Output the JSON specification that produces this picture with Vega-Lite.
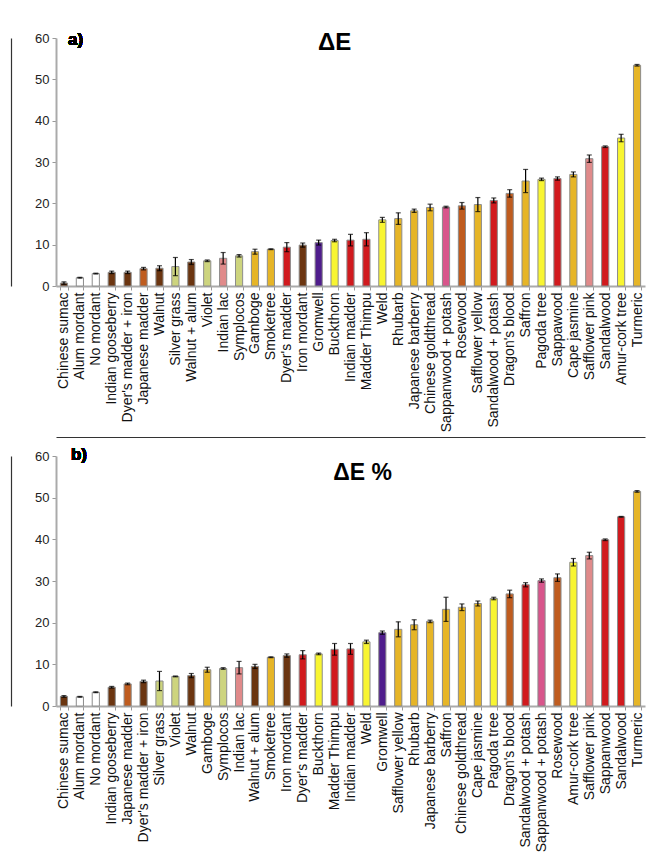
{
  "$schema": "https://vega.github.io/schema/vega-lite/v6.json",
  "padding": {"left": 11, "top": 31, "right": 5, "bottom": 5},
  "background": "white",
  "spacing": 5,
  "config": {
    "font": "Liberation Sans",
    "view": {"stroke": null},
    "axisX": {
      "title": null,
      "labelAngle": -90,
      "labelFontSize": 14,
      "labelColor": "#111111",
      "labelPadding": 2,
      "tickBand": "extent",
      "tickSize": 4,
      "tickColor": "#999999",
      "domainColor": "#aaaaaa",
      "domainWidth": 2
    },
    "axisY": {
      "title": null,
      "grid": false,
      "values": [0, 10, 20, 30, 40, 50, 60],
      "labelFontSize": 13,
      "labelColor": "#222222",
      "labelPadding": 3,
      "tickSize": 4,
      "tickColor": "#999999",
      "domainColor": "#aaaaaa",
      "domainWidth": 2
    },
    "title": {"fontSize": 24, "fontWeight": "bold", "color": "#000000", "anchor": "middle", "frame": "group"}
  },
  "datasets": {
    "deltaE": [
      {"dye": "Chinese sumac", "value": 0.7, "err": 0.3, "hue": "brown"},
      {"dye": "Alum mordant", "value": 2.0, "err": 0.1, "hue": "white"},
      {"dye": "No mordant", "value": 3.0, "err": 0.1, "hue": "white"},
      {"dye": "Indian gooseberry", "value": 3.3, "err": 0.3, "hue": "brown"},
      {"dye": "Dyer's madder + iron", "value": 3.3, "err": 0.3, "hue": "brown"},
      {"dye": "Japanese madder", "value": 4.2, "err": 0.3, "hue": "orange"},
      {"dye": "Walnut", "value": 4.3, "err": 0.6, "hue": "brown"},
      {"dye": "Silver grass", "value": 4.7, "err": 2.2, "hue": "khaki"},
      {"dye": "Walnut + alum", "value": 5.8, "err": 0.6, "hue": "brown"},
      {"dye": "Violet", "value": 6.1, "err": 0.2, "hue": "khaki"},
      {"dye": "Indian lac", "value": 6.7, "err": 1.4, "hue": "pink"},
      {"dye": "Symplocos", "value": 7.3, "err": 0.3, "hue": "khaki"},
      {"dye": "Gamboge", "value": 8.3, "err": 0.6, "hue": "gold"},
      {"dye": "Smoketree", "value": 8.9, "err": 0.1, "hue": "gold"},
      {"dye": "Dyer's madder", "value": 9.4, "err": 1.1, "hue": "red"},
      {"dye": "Iron mordant", "value": 9.9, "err": 0.5, "hue": "brown"},
      {"dye": "Gromwell", "value": 10.5, "err": 0.6, "hue": "purple"},
      {"dye": "Buckthorn", "value": 11.0, "err": 0.3, "hue": "yellow"},
      {"dye": "Indian madder", "value": 11.1, "err": 1.4, "hue": "red"},
      {"dye": "Madder Thimpu", "value": 11.3, "err": 1.6, "hue": "red"},
      {"dye": "Weld", "value": 16.0, "err": 0.6, "hue": "yellow"},
      {"dye": "Rhubarb", "value": 16.3, "err": 1.4, "hue": "gold"},
      {"dye": "Japanese barberry", "value": 18.2, "err": 0.4, "hue": "gold"},
      {"dye": "Chinese goldthread", "value": 19.0, "err": 0.8, "hue": "gold"},
      {"dye": "Sappanwood + potash", "value": 19.1, "err": 0.2, "hue": "magenta"},
      {"dye": "Rosewood", "value": 19.4, "err": 0.8, "hue": "orange"},
      {"dye": "Safflower yellow", "value": 19.7, "err": 1.7, "hue": "gold"},
      {"dye": "Sandalwood + potash", "value": 20.7, "err": 0.6, "hue": "red"},
      {"dye": "Dragon's blood", "value": 22.4, "err": 0.9, "hue": "orange"},
      {"dye": "Saffron", "value": 25.4, "err": 2.8, "hue": "gold"},
      {"dye": "Pagoda tree", "value": 25.8, "err": 0.3, "hue": "yellow"},
      {"dye": "Sappawood", "value": 26.0, "err": 0.4, "hue": "red"},
      {"dye": "Cape jasmine", "value": 27.0, "err": 0.6, "hue": "gold"},
      {"dye": "Safflower pink", "value": 30.8, "err": 0.9, "hue": "pink"},
      {"dye": "Sandalwood", "value": 33.7, "err": 0.2, "hue": "red"},
      {"dye": "Amur-cork tree", "value": 35.8, "err": 0.9, "hue": "yellow"},
      {"dye": "Turmeric", "value": 53.4, "err": 0.2, "hue": "gold"}
    ],
    "deltaEpct": [
      {"dye": "Chinese sumac", "value": 2.3, "err": 0.2, "hue": "brown"},
      {"dye": "Alum mordant", "value": 2.2, "err": 0.1, "hue": "white"},
      {"dye": "No mordant", "value": 3.3, "err": 0.1, "hue": "white"},
      {"dye": "Indian gooseberry", "value": 4.5, "err": 0.2, "hue": "brown"},
      {"dye": "Japanese madder", "value": 5.3, "err": 0.2, "hue": "orange"},
      {"dye": "Dyer's madder + iron", "value": 5.9, "err": 0.3, "hue": "brown"},
      {"dye": "Silver grass", "value": 6.0, "err": 2.3, "hue": "khaki"},
      {"dye": "Violet", "value": 7.1, "err": 0.1, "hue": "khaki"},
      {"dye": "Walnut", "value": 7.3, "err": 0.5, "hue": "brown"},
      {"dye": "Gamboge", "value": 8.7, "err": 0.6, "hue": "gold"},
      {"dye": "Symplocos", "value": 9.0, "err": 0.2, "hue": "khaki"},
      {"dye": "Indian lac", "value": 9.2, "err": 1.5, "hue": "pink"},
      {"dye": "Walnut + alum", "value": 9.5, "err": 0.5, "hue": "brown"},
      {"dye": "Smoketree", "value": 11.7, "err": 0.1, "hue": "gold"},
      {"dye": "Iron mordant", "value": 12.1, "err": 0.4, "hue": "brown"},
      {"dye": "Dyer's madder", "value": 12.3, "err": 1.0, "hue": "red"},
      {"dye": "Buckthorn", "value": 12.5, "err": 0.2, "hue": "yellow"},
      {"dye": "Madder Thimpu", "value": 13.6, "err": 1.4, "hue": "red"},
      {"dye": "Indian madder", "value": 13.7, "err": 1.3, "hue": "red"},
      {"dye": "Weld", "value": 15.4, "err": 0.4, "hue": "yellow"},
      {"dye": "Gromwell", "value": 17.6, "err": 0.4, "hue": "purple"},
      {"dye": "Safflower yellow", "value": 18.4, "err": 1.8, "hue": "gold"},
      {"dye": "Rhubarb", "value": 19.5, "err": 1.2, "hue": "gold"},
      {"dye": "Japanese barberry", "value": 20.3, "err": 0.3, "hue": "gold"},
      {"dye": "Saffron", "value": 23.2, "err": 2.9, "hue": "gold"},
      {"dye": "Chinese goldthread", "value": 23.7, "err": 0.8, "hue": "gold"},
      {"dye": "Cape jasmine", "value": 24.6, "err": 0.6, "hue": "gold"},
      {"dye": "Pagoda tree", "value": 25.8, "err": 0.3, "hue": "yellow"},
      {"dye": "Dragon's blood", "value": 26.9, "err": 0.9, "hue": "orange"},
      {"dye": "Sandalwood + potash", "value": 29.1, "err": 0.5, "hue": "red"},
      {"dye": "Sappanwood + potash", "value": 30.1, "err": 0.4, "hue": "magenta"},
      {"dye": "Rosewood", "value": 30.8, "err": 0.9, "hue": "orange"},
      {"dye": "Amur-cork tree", "value": 34.5, "err": 0.9, "hue": "yellow"},
      {"dye": "Safflower pink", "value": 36.1, "err": 0.8, "hue": "pink"},
      {"dye": "Sappanwood", "value": 39.9, "err": 0.2, "hue": "red"},
      {"dye": "Sandalwood", "value": 45.4, "err": 0.1, "hue": "red"},
      {"dye": "Turmeric", "value": 51.5, "err": 0.2, "hue": "gold"}
    ]
  },
  "vconcat": [
    {
      "title": {"text": "ΔE", "offset": -24, "dx": -16},
      "width": 589,
      "height": 248,
      "data": {"name": "deltaE"},
      "resolve": {"axis": {"y": "independent"}},
      "layer": [
        {
          "mark": {"type": "bar", "stroke": "#8c8c8c", "strokeWidth": 1},
          "encoding": {
            "x": {"field": "dye", "type": "nominal", "sort": null, "scale": {"paddingInner": 0.55}},
            "y": {"field": "value", "type": "quantitative", "scale": {"domain": [0, 60], "nice": false}, "axis": {"title": null}},
            "fill": {
              "field": "hue", "type": "nominal", "legend": null,
              "scale": {
                "domain": ["brown", "white", "orange", "khaki", "pink", "gold", "red", "purple", "yellow", "magenta"],
                "range": ["#6b3510", "#ffffff", "#bf5c1f", "#cdd47e", "#e08a8a", "#e6b527", "#d11a1e", "#4f1d8c", "#f8f531", "#d8558b"]
              }
            }
          }
        },
        {
          "mark": {"type": "errorbar", "color": "#000000", "thickness": 1.2, "ticks": {"size": 5, "thickness": 1.2, "color": "#000000"}},
          "encoding": {
            "x": {"field": "dye", "type": "nominal", "sort": null},
            "y": {"field": "value", "type": "quantitative", "axis": null},
            "yError": {"field": "err"}
          }
        },
        {
          "mark": {"type": "text", "text": "a)", "fontSize": 17, "fontWeight": "bold", "align": "left", "baseline": "top", "dx": 4, "dy": -6},
          "encoding": {
            "x": {"datum": "Chinese sumac"},
            "y": {
              "datum": 60,
              "axis": {"orient": "left", "offset": 45, "labels": false, "ticks": false, "title": null, "domainColor": "#333333", "domainWidth": 1.2}
            }
          }
        }
      ]
    },
    {
      "title": {"text": "ΔE %", "offset": -48, "dx": 12, "fontSize": 23},
      "width": 589,
      "height": 250,
      "data": {"name": "deltaEpct"},
      "resolve": {"axis": {"x": "independent", "y": "independent"}},
      "layer": [
        {
          "mark": {"type": "bar", "stroke": "#8c8c8c", "strokeWidth": 1},
          "encoding": {
            "x": {"field": "dye", "type": "nominal", "sort": null, "scale": {"paddingInner": 0.55}},
            "y": {"field": "value", "type": "quantitative", "scale": {"domain": [0, 60], "nice": false}, "axis": {"title": null}},
            "fill": {
              "field": "hue", "type": "nominal", "legend": null,
              "scale": {
                "domain": ["brown", "white", "orange", "khaki", "pink", "gold", "red", "purple", "yellow", "magenta"],
                "range": ["#6b3510", "#ffffff", "#bf5c1f", "#cdd47e", "#e08a8a", "#e6b527", "#d11a1e", "#4f1d8c", "#f8f531", "#d8558b"]
              }
            }
          }
        },
        {
          "mark": {"type": "errorbar", "color": "#000000", "thickness": 1.2, "ticks": {"size": 5, "thickness": 1.2, "color": "#000000"}},
          "encoding": {
            "x": {"field": "dye", "type": "nominal", "sort": null, "axis": null},
            "y": {"field": "value", "type": "quantitative", "axis": null},
            "yError": {"field": "err"}
          }
        },
        {
          "mark": {"type": "text", "text": "b)", "fontSize": 17, "fontWeight": "bold", "align": "left", "baseline": "top", "dx": 7, "dy": -9},
          "encoding": {
            "x": {
              "datum": "Chinese sumac",
              "axis": {"orient": "top", "offset": 19, "labels": false, "ticks": false, "title": null, "domainColor": "#333333", "domainWidth": 1.2}
            },
            "y": {
              "datum": 60,
              "axis": {"orient": "left", "offset": 45, "labels": false, "ticks": false, "title": null, "domainColor": "#333333", "domainWidth": 1.2}
            }
          }
        }
      ]
    }
  ]
}
